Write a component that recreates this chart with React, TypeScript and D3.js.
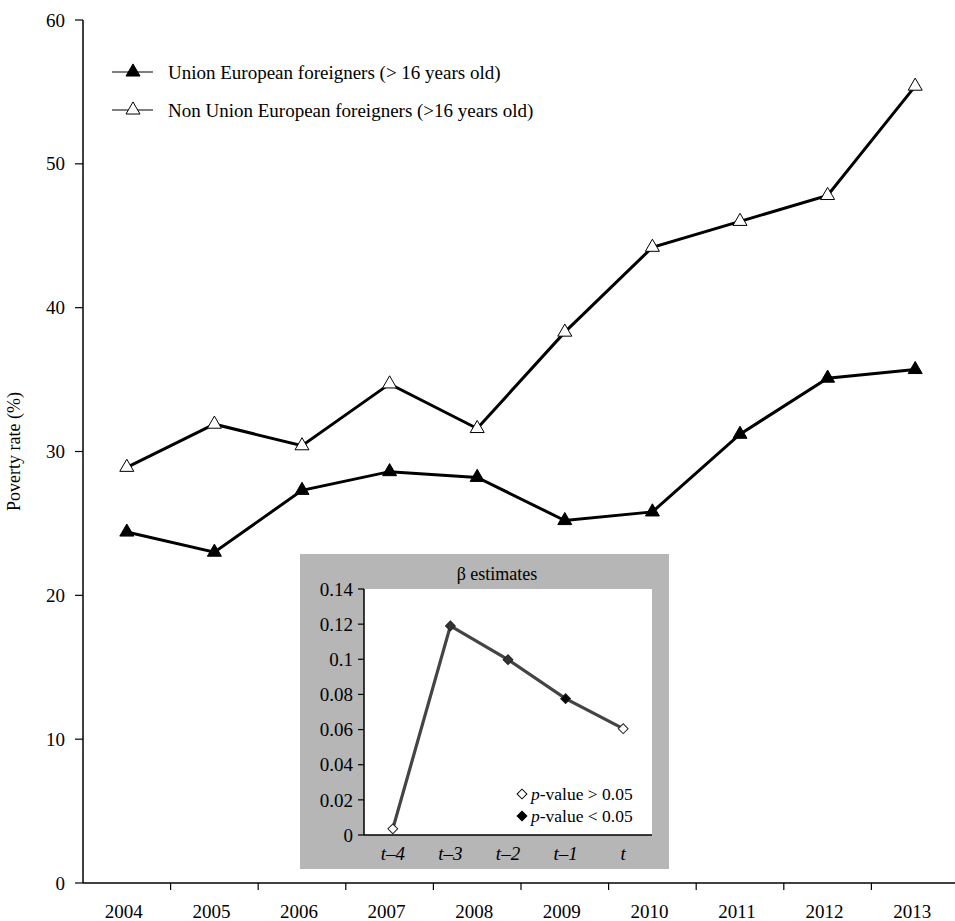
import * as d3 from 'd3'

const years = ['2004', '2005', '2006', '2007', '2008', '2009', '2010', '2011', '2012', '2013']
const ueForeigners = [24.4, 23.0, 27.3, 28.6, 28.2, 25.2, 25.8, 31.2, 35.1, 35.7]
const nonUeForeigners = [28.9, 31.9, 30.4, 34.7, 31.6, 38.3, 44.2, 46.0, 47.8, 55.4]
const yTicks = [0, 10, 20, 30, 40, 50, 60]

const lags = ['t–4', 't–3', 't–2', 't–1', 't']
const betas = [0.0035, 0.119, 0.0998, 0.0776, 0.0605]
const significant = [false, true, true, true, false]
const betaTicks = [0, 0.02, 0.04, 0.06, 0.08, 0.1, 0.12, 0.14]

const W = 955
const H = 921
const font = '"Liberation Serif", "Times New Roman", serif'

// main plot
const m = { left: 83, top: 20, right: 959, bottom: 883 }
const x = d3.scaleBand().domain(years).range([m.left, m.right])
const y = d3.scaleLinear().domain([0, 60]).range([m.bottom, m.top])

// inset
const box = { x0: 300, y0: 554, x1: 669, y1: 869 }
const ins = { left: 364, top: 589, right: 652, bottom: 835 }
const ix = d3.scaleBand().domain(lags).range([ins.left, ins.right])
const iy = d3.scaleLinear().domain([0, 0.14]).range([ins.bottom, ins.top])

const tri = d3.symbol(d3.symbolTriangle, 85)()
const dia = d3.symbol(d3.symbolSquare, 48)()

function Series({ values, filled }: { values: number[]; filled: boolean }) {
  const line = d3
    .line<number>()
    .x((_, i) => x(years[i])! + x.bandwidth() / 2)
    .y((d) => y(d))
  return (
    <g>
      <path d={line(values)!} fill="none" stroke="#000" strokeWidth={3} />
      {values.map((v, i) => (
        <path
          key={i}
          d={tri!}
          transform={`translate(${x(years[i])! + x.bandwidth() / 2},${y(v)})`}
          fill={filled ? '#000' : '#fff'}
          stroke="#000"
          strokeWidth={1}
        />
      ))}
    </g>
  )
}

function Inset() {
  const line = d3
    .line<number>()
    .x((_, i) => ix(lags[i])! + ix.bandwidth() / 2)
    .y((d) => iy(d))
  return (
    <g>
      <rect x={box.x0} y={box.y0} width={box.x1 - box.x0} height={box.y1 - box.y0} fill="#b5b6b5" />
      <rect x={ins.left} y={ins.top} width={ins.right - ins.left} height={ins.bottom - ins.top} fill="#fff" />
      <text x={497} y={580} textAnchor="middle" fontSize={18}>β estimates</text>
      <line x1={ins.left} x2={ins.left} y1={ins.top} y2={ins.bottom} stroke="#000" strokeWidth={1.5} />
      <line x1={ins.left} x2={ins.right} y1={ins.bottom} y2={ins.bottom} stroke="#000" strokeWidth={1.5} />
      {betaTicks.map((t) => (
        <g key={t}>
          <line x1={ins.left - 6} x2={ins.left} y1={iy(t)} y2={iy(t)} stroke="#000" strokeWidth={1.2} />
          <text x={ins.left - 11} y={iy(t)} dy="0.35em" textAnchor="end" fontSize={19}>
            {d3.format('~g')(t)}
          </text>
        </g>
      ))}
      {lags.map((l) => (
        <text
          key={l}
          x={ix(l)! + ix.bandwidth() / 2}
          y={860}
          textAnchor="middle"
          fontSize={19}
          fontStyle="italic"
        >
          {l}
        </text>
      ))}
      <path d={line(betas)!} fill="none" stroke="#444" strokeWidth={3.2} />
      {betas.map((b, i) => (
        <path
          key={i}
          d={dia!}
          transform={`translate(${ix(lags[i])! + ix.bandwidth() / 2},${iy(b)}) rotate(45)`}
          fill={significant[i] ? (i === 3 ? '#000' : '#333') : '#fff'}
          stroke="#222"
          strokeWidth={1}
        />
      ))}
      <g fontSize={17.5}>
        <path d={dia!} transform="translate(522,794) rotate(45)" fill="#fff" stroke="#000" strokeWidth={1} />
        <text x={531} y={794} dy="0.35em">
          <tspan fontStyle="italic">p</tspan>-value &gt; 0.05
        </text>
        <path d={dia!} transform="translate(522,816) rotate(45)" fill="#000" stroke="#000" strokeWidth={1} />
        <text x={531} y={816} dy="0.35em">
          <tspan fontStyle="italic">p</tspan>-value &lt; 0.05
        </text>
      </g>
    </g>
  )
}

export default function App() {
  const legend = [
    { label: 'Union European foreigners (> 16 years old)', filled: true },
    { label: 'Non Union European foreigners (>16 years old)', filled: false },
  ]
  return (
    <svg
      width={W}
      height={H}
      style={{ position: 'absolute', left: 0, top: 0, background: '#fff' }}
      fontFamily={font}
    >
      {/* y axis */}
      <line x1={m.left} x2={m.left} y1={m.top} y2={m.bottom} stroke="#000" strokeWidth={1.5} />
      {yTicks.map((t) => (
        <g key={t}>
          <line x1={m.left - 8} x2={m.left} y1={y(t)} y2={y(t)} stroke="#000" strokeWidth={1.2} />
          <text x={m.left - 18} y={y(t)} dy="0.35em" textAnchor="end" fontSize={19}>
            {t}
          </text>
        </g>
      ))}
      <text
        transform={`translate(20,${(m.top + m.bottom) / 2}) rotate(-90)`}
        textAnchor="middle"
        fontSize={18}
      >
        Poverty rate (%)
      </text>
      {/* x axis */}
      <line x1={m.left} x2={W} y1={m.bottom} y2={m.bottom} stroke="#000" strokeWidth={1.5} />
      {years.slice(1).map((yr) => (
        <line key={yr} x1={x(yr)} x2={x(yr)} y1={m.bottom} y2={m.bottom + 7} stroke="#000" strokeWidth={1.2} />
      ))}
      {years.map((yr) => (
        <text key={yr} x={x(yr)! + x.bandwidth() / 2 - 3} y={918} textAnchor="middle" fontSize={19}>
          {yr}
        </text>
      ))}
      {/* legend */}
      {legend.map((l, i) => (
        <g key={l.label} transform={`translate(0,${72 + i * 38})`}>
          <line x1={112} x2={153} y1={0} y2={0} stroke="#000" strokeWidth={1.2} />
          <path d={tri!} transform="translate(133,0)" fill={l.filled ? '#000' : '#fff'} stroke="#000" />
          <text x={168} y={0} dy="0.35em" fontSize={19}>
            {l.label}
          </text>
        </g>
      ))}
      <Series values={ueForeigners} filled />
      <Series values={nonUeForeigners} filled={false} />
      <Inset />
    </svg>
  )
}
